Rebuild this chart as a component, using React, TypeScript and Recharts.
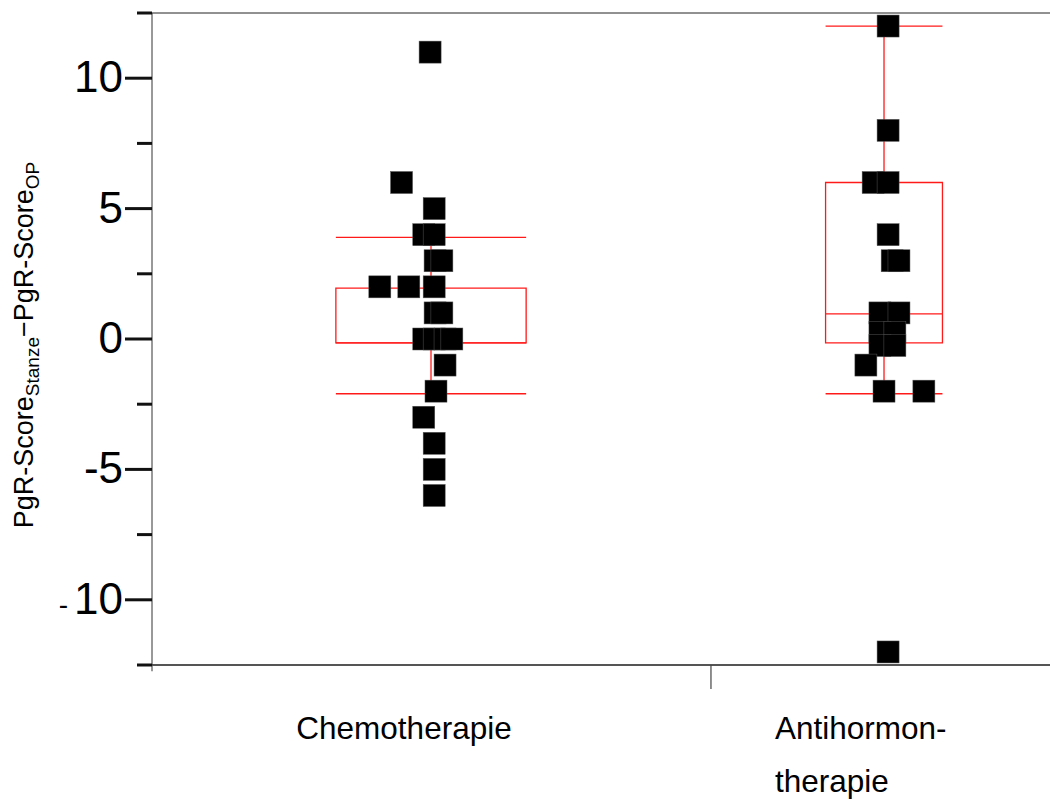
import React from "react";
import { ScatterChart, Scatter, XAxis, YAxis, ReferenceArea, ReferenceLine } from "recharts";

// groups and their x label lines
const groupNames = ["Chemotherapie", "Antihormontherapie"];
const groupLabelLines = [["Chemotherapie"], ["Antihormon-", "therapie"]];

// individual differences (y) and jittered x position (group 1 = Chemo, 2 = Antihormon)
const chemoValues = [11, 6, 5, 4, 4, 3, 3, 2, 2, 2, 1, 1, 0, 0, 0, 0, -1, -2, -3, -4, -5, -6];
const chemoX = [0.998, 0.935, 1.007, 0.984, 1.007, 1.009, 1.024, 0.887, 0.951, 1.007, 1.009, 1.024, 0.984, 1.007, 1.031, 1.046, 1.031, 1.011, 0.984, 1.007, 1.007, 1.007];

const antiValues = [12, 8, 6, 6, 4, 3, 3, 1, 1, 0.25, 0.25, -0.25, -0.25, -1, -2, -2, -12];
const antiX = [2.009, 2.009, 1.976, 2.009, 2.009, 2.018, 2.033, 1.991, 2.033, 1.991, 2.024, 1.991, 2.024, 1.96, 2.0, 2.088, 2.009];

// box plot statistics per group
const whiskerLow = [-2.1, -2.1];
const quartile1 = [-0.15, -0.15];
const median = [-0.15, 0.96];
const quartile3 = [1.95, 6.0];
const whiskerHigh = [3.9, 12.0];

// y axis
const yTicks = [-12.5, -10, -7.5, -5, -2.5, 0, 2.5, 5, 7.5, 10, 12.5];
const yLabelled = [-10, -5, 0, 5, 10];

// layout constants (x in group units)
const X_MIN = 0.3841;
const X_MAX = 2.3664;
const SEPARATOR = 1.618;
const BOX_HALF = [0.21, 0.129];
const FONT = "'Liberation Sans', Arial, sans-serif";

const chemoData = chemoValues.map((y, i) => ({ x: chemoX[i], y }));
const antiData = antiValues.map((y, i) => ({ x: antiX[i], y }));

const Square = (props: any) => {
  const { cx, cy } = props;
  if (cx == null || cy == null) return null;
  return <rect x={cx - 11} y={cy - 11} width={22} height={22} fill="#000" stroke="#555" strokeWidth={0.5} />;
};

const YTick = ({ x, y, payload }: any) => {
  const v = payload.value;
  const major = yLabelled.includes(v);
  const len = major ? 27 : 15;
  return (
    <g>
      <line x1={x - len} x2={x} y1={y} y2={y} stroke="#111" strokeWidth={3} />
      {major && (
        <text x={x - 29} y={y + 14} textAnchor="end" fontFamily={FONT} fontSize={44} fill="#000">
          {v === -10 ? (
            <>
              <tspan fontSize={28}>-</tspan>
              <tspan dx={6}>10</tspan>
            </>
          ) : (
            String(v)
          )}
        </text>
      )}
    </g>
  );
};

const XTick = ({ x, y, payload }: any) => {
  const v = payload.value;
  if (v === SEPARATOR) {
    return <line x1={x} x2={x} y1={y} y2={y + 24} stroke="#444" strokeWidth={1.2} />;
  }
  const idx = v === 1 ? 0 : 1;
  const lines = groupLabelLines[idx];
  if (lines.length === 1) {
    return (
      <text x={x - 27} y={y + 74} textAnchor="middle" fontFamily={FONT} fontSize={31.5} fill="#000">
        {lines[0]}
      </text>
    );
  }
  return (
    <text x={x - 109} y={y + 74} textAnchor="start" fontFamily={FONT} fontSize={31.5} fill="#000">
      {lines.map((l, i) => (
        <tspan key={l} x={x - 109} dy={i === 0 ? 0 : 53}>
          {l}
        </tspan>
      ))}
    </text>
  );
};

const YLabel = () => (
  <text transform="translate(33,345) rotate(-90)" textAnchor="middle" fontFamily={FONT} fontSize={27} fill="#000">
    PgR-Score
    <tspan fontSize={19} dy={6}>Stanze</tspan>
    <tspan dy={-6}>−PgR-Score</tspan>
    <tspan fontSize={19} dy={6}>OP</tspan>
  </text>
);

export default function App() {
  const red = "#ff1a1a";
  return (
    <div style={{ position: "absolute", left: 0, top: 0, background: "#fff" }}>
      <ScatterChart width={1050} height={800} margin={{ top: 13, right: 0, bottom: 0, left: 0 }}>
        <XAxis
          type="number"
          dataKey="x"
          domain={[X_MIN, X_MAX]}
          ticks={[1, SEPARATOR, 2]}
          interval={0}
          height={135}
          tickSize={0}
          tickMargin={0}
          tickLine={false}
          tick={<XTick />}
          axisLine={{ stroke: "#555", strokeWidth: 2 }}
          allowDataOverflow
        />
        <YAxis
          type="number"
          dataKey="y"
          domain={[-12.5, 12.5]}
          ticks={yTicks}
          interval={0}
          width={152}
          tickSize={0}
          tickMargin={0}
          tickLine={false}
          tick={<YTick />}
          axisLine={{ stroke: "#333", strokeWidth: 1 }}
          label={{ content: () => <YLabel /> }}
          allowDataOverflow
        />
        <ReferenceLine y={12.5} stroke="#222" strokeWidth={1} />
        {/* left axis line runs a little past the x axis */}
        <ReferenceLine segment={[{ x: X_MIN, y: -12.5 }, { x: X_MIN, y: -12.74 }]} stroke="#333" strokeWidth={1} ifOverflow="visible" />
        {groupNames.map((g, i) => {
          const c = i + 1;
          const l = c - BOX_HALF[i];
          const r = c + BOX_HALF[i];
          return (
            <React.Fragment key={g}>
              <ReferenceArea x1={l} x2={r} y1={quartile1[i]} y2={quartile3[i]} fill="none" fillOpacity={0} stroke={red} strokeWidth={1.3} strokeOpacity={1} />
              <ReferenceLine segment={[{ x: l, y: median[i] }, { x: r, y: median[i] }]} stroke={red} strokeWidth={1.3} />
              <ReferenceLine segment={[{ x: l, y: whiskerHigh[i] }, { x: r, y: whiskerHigh[i] }]} stroke={red} strokeWidth={1.3} />
              <ReferenceLine segment={[{ x: l, y: whiskerLow[i] }, { x: r, y: whiskerLow[i] }]} stroke={red} strokeWidth={1.3} />
              <ReferenceLine segment={[{ x: c, y: quartile3[i] }, { x: c, y: whiskerHigh[i] }]} stroke={red} strokeWidth={1.3} />
              <ReferenceLine segment={[{ x: c, y: whiskerLow[i] }, { x: c, y: quartile1[i] }]} stroke={red} strokeWidth={1.3} />
            </React.Fragment>
          );
        })}
        <Scatter name={groupNames[0]} data={chemoData} shape={<Square />} isAnimationActive={false} />
        <Scatter name={groupNames[1]} data={antiData} shape={<Square />} isAnimationActive={false} />
      </ScatterChart>
    </div>
  );
}
